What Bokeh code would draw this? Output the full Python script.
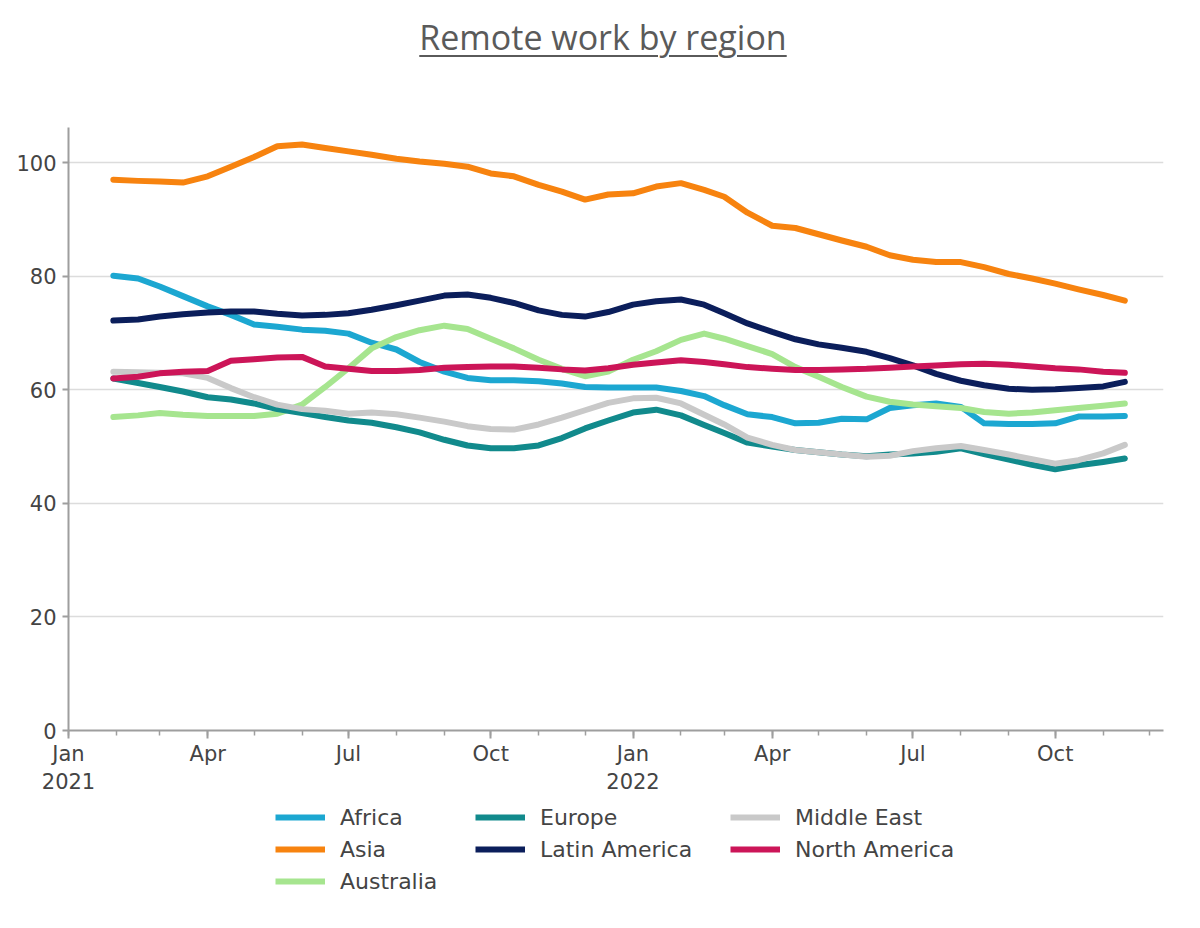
import pandas as pd
from bokeh.plotting import figure
from bokeh.models import FixedTicker, Legend, LegendItem, Div, Range1d
from bokeh.layouts import column
from bokeh.embed import file_html
from bokeh.resources import INLINE

# ---------------- data ----------------
dates = ["2021-01-30", "2021-02-15", "2021-03-01", "2021-03-16", "2021-04-01", "2021-04-16",
         "2021-05-01", "2021-05-16", "2021-06-01", "2021-06-16", "2021-07-01", "2021-07-16",
         "2021-08-01", "2021-08-16", "2021-09-01", "2021-09-16", "2021-10-01", "2021-10-16",
         "2021-11-01", "2021-11-16", "2021-12-01", "2021-12-16", "2022-01-01", "2022-01-16",
         "2022-02-01", "2022-02-16", "2022-03-01", "2022-03-16", "2022-04-01", "2022-04-16",
         "2022-05-01", "2022-05-16", "2022-06-01", "2022-06-16", "2022-07-01", "2022-07-16",
         "2022-08-01", "2022-08-16", "2022-09-01", "2022-09-16", "2022-10-01", "2022-10-16",
         "2022-11-01", "2022-11-15"]

africa = [80.1, 79.6, 78.2, 76.5, 74.7, 73.2, 71.5, 71.1, 70.6, 70.4, 69.9, 68.3, 67.1, 64.9,
          63.2, 62.1, 61.7, 61.7, 61.5, 61.1, 60.5, 60.4, 60.4, 60.4, 59.8, 58.9, 57.3, 55.7,
          55.2, 54.1, 54.2, 54.9, 54.8, 56.8, 57.3, 57.6, 57.0, 54.1, 54.0, 54.0, 54.1, 55.3,
          55.3, 55.4]
asia = [97.0, 96.8, 96.7, 96.5, 97.6, 99.3, 101.0, 102.9, 103.2, 102.6, 102.0, 101.4, 100.7,
        100.2, 99.8, 99.3, 98.1, 97.6, 96.1, 94.9, 93.5, 94.4, 94.6, 95.8, 96.4, 95.2, 94.0,
        91.2, 88.9, 88.5, 87.4, 86.3, 85.2, 83.7, 82.9, 82.5, 82.5, 81.6, 80.4, 79.6, 78.7,
        77.7, 76.7, 75.7]
australia = [55.2, 55.5, 55.9, 55.6, 55.4, 55.4, 55.4, 55.8, 57.4, 60.5, 63.8, 67.3, 69.3,
             70.5, 71.3, 70.7, 69.0, 67.3, 65.3, 63.7, 62.4, 63.2, 65.3, 66.8, 68.8, 69.9,
             69.0, 67.7, 66.3, 64.0, 62.3, 60.5, 58.8, 57.9, 57.4, 57.1, 56.8, 56.1, 55.8,
             56.0, 56.4, 56.8, 57.2, 57.6]
europe = [62.0, 61.2, 60.5, 59.7, 58.7, 58.3, 57.6, 56.6, 55.9, 55.2, 54.6, 54.2, 53.4, 52.5,
          51.2, 50.2, 49.7, 49.7, 50.2, 51.5, 53.2, 54.6, 56.0, 56.5, 55.5, 53.8, 52.4, 50.7,
          50.0, 49.4, 49.0, 48.6, 48.3, 48.6, 48.8, 49.1, 49.7, 48.7, 47.7, 46.8, 46.0, 46.7,
          47.3, 47.9]
latin_america = [72.2, 72.4, 72.9, 73.3, 73.6, 73.8, 73.8, 73.4, 73.1, 73.2, 73.5, 74.1, 74.9,
                 75.7, 76.6, 76.8, 76.2, 75.3, 74.0, 73.2, 72.9, 73.7, 75.0, 75.6, 75.9, 75.0,
                 73.5, 71.7, 70.2, 68.9, 68.0, 67.4, 66.7, 65.6, 64.3, 62.8, 61.6, 60.8, 60.2,
                 60.0, 60.1, 60.3, 60.6, 61.4]
middle_east = [63.2, 63.1, 63.0, 62.9, 62.1, 60.3, 58.7, 57.4, 56.6, 56.3, 55.8, 56.0, 55.7,
               55.1, 54.4, 53.6, 53.1, 53.0, 53.9, 55.1, 56.4, 57.7, 58.5, 58.6, 57.6, 55.6,
               53.9, 51.6, 50.3, 49.4, 49.0, 48.6, 48.2, 48.4, 49.2, 49.7, 50.1, 49.4, 48.6,
               47.8, 47.0, 47.6, 48.8, 50.3]
north_america = [62.0, 62.3, 62.9, 63.2, 63.3, 65.1, 65.4, 65.7, 65.8, 64.1, 63.7, 63.3, 63.3,
                 63.5, 63.9, 64.0, 64.1, 64.1, 63.9, 63.6, 63.4, 63.8, 64.4, 64.8, 65.2, 64.9,
                 64.5, 64.0, 63.7, 63.5, 63.5, 63.6, 63.7, 63.9, 64.1, 64.3, 64.5, 64.6, 64.4,
                 64.1, 63.8, 63.6, 63.2, 63.0]

regions = ["Africa", "Asia", "Australia", "Europe", "Latin America", "Middle East", "North America"]
colors = ["#1CA7D1", "#F7830F", "#A6E58F", "#118A8C", "#0B1E5B", "#C9C9C9", "#CC1558"]
series = [africa, asia, australia, europe, latin_america, middle_east, north_america]
legend_columns = [["Africa", "Asia", "Australia"],
                  ["Europe", "Latin America"],
                  ["Middle East", "North America"]]

major_tick_dates = ["2021-01-01", "2021-04-01", "2021-07-01", "2021-10-01",
                    "2022-01-01", "2022-04-01", "2022-07-01", "2022-10-01"]
major_tick_labels = ["Jan\n2021", "Apr", "Jul", "Oct", "Jan\n2022", "Apr", "Jul", "Oct"]
y_ticks = [0, 20, 40, 60, 80, 100]

# ---------------- main figure ----------------
def ms(d):
    return int(pd.Timestamp(d).value // 10**6)

x = pd.to_datetime(dates)

p = figure(width=1180, height=737, x_axis_type="datetime",
           output_backend="svg", toolbar_location=None,
           x_range=Range1d(pd.Timestamp("2021-01-01"), pd.Timestamp("2022-12-10")),
           y_range=Range1d(0, 106.2),
           min_border_left=68, min_border_right=17, min_border_top=67, min_border_bottom=66)

p.outline_line_color = None

major = [ms(d) for d in major_tick_dates]
minor = [ms(d) for d in pd.date_range("2021-01-01", "2022-12-01", freq="MS")]
p.xaxis.ticker = FixedTicker(ticks=major, minor_ticks=minor)
p.xaxis.major_label_overrides = dict(zip(major, major_tick_labels))
p.yaxis.ticker = FixedTicker(ticks=y_ticks, minor_ticks=[])

for ax in (p.xaxis, p.yaxis):
    ax.axis_line_color = "#9e9e9e"
    ax.axis_line_width = 2
    ax.major_tick_line_color = "#9e9e9e"
    ax.major_tick_line_width = 2
    ax.minor_tick_line_color = "#9e9e9e"
    ax.minor_tick_line_width = 1.5
    ax.major_tick_in = 0
    ax.minor_tick_in = 0
    ax.major_label_text_font = "DejaVu Sans"
    ax.major_label_text_font_size = "21px"
    ax.major_label_text_color = "#444444"

p.xaxis.major_tick_out = 8
p.xaxis.minor_tick_out = 5
p.xaxis.major_label_standoff = 3
p.yaxis.major_tick_out = 6
p.yaxis.major_label_standoff = 6

p.xgrid.visible = False
p.ygrid.ticker = FixedTicker(ticks=y_ticks)
p.ygrid.grid_line_color = "#dcdcdc"
p.ygrid.grid_line_width = 1.5

for name, vals, col in zip(regions, series, colors):
    p.line(x, vals, line_width=6, line_color=col, line_join="round", line_cap="round")

# ---------------- legend strip (separate figure, same series styles) ----------------
lf = figure(width=1180, height=100, output_backend="svg", toolbar_location=None,
            x_range=Range1d(0, 1), y_range=Range1d(0, 1),
            x_axis_location=None, y_axis_location=None, min_border=0)
lf.outline_line_color = None
lf.xgrid.visible = False
lf.ygrid.visible = False

legend_renderers = {}
for name, vals, col in zip(regions, series, colors):
    legend_renderers[name] = lf.line(x, vals, line_width=6, line_color=col, visible=False)

legend_locations = [(207, 2), (407, 34), (662, 34)]
for names, loc in zip(legend_columns, legend_locations):
    lg = Legend(items=[LegendItem(label=n, renderers=[legend_renderers[n]]) for n in names],
                location=loc, orientation="vertical")
    lg.border_line_color = None
    lg.background_fill_alpha = 0
    lg.padding = 0
    lg.margin = 0
    lg.spacing = 4
    lg.glyph_width = 50
    lg.glyph_height = 28
    lg.label_height = 28
    lg.label_standoff = 15
    lg.label_text_font = "DejaVu Sans"
    lg.label_text_font_size = "22px"
    lg.label_text_color = "#444444"
    lg.click_policy = "none"
    lf.add_layout(lg, "center")

title = Div(
    text=('<div style="width:1180px; box-sizing:border-box; padding-left:26px; padding-top:17px; '
          'text-align:center; font-family:\'Open Sans\'; font-size:34px; line-height:40px; '
          'color:#5a5a5a; text-decoration:underline; text-decoration-thickness:2px; '
          'text-underline-offset:5px;">Remote work by region</div>'),
    width=1180, height=60, margin=(0, 0, 0, 0))

layout = column(title, p, lf, spacing=0)

open("out.html", "w").write(file_html(layout, INLINE))
